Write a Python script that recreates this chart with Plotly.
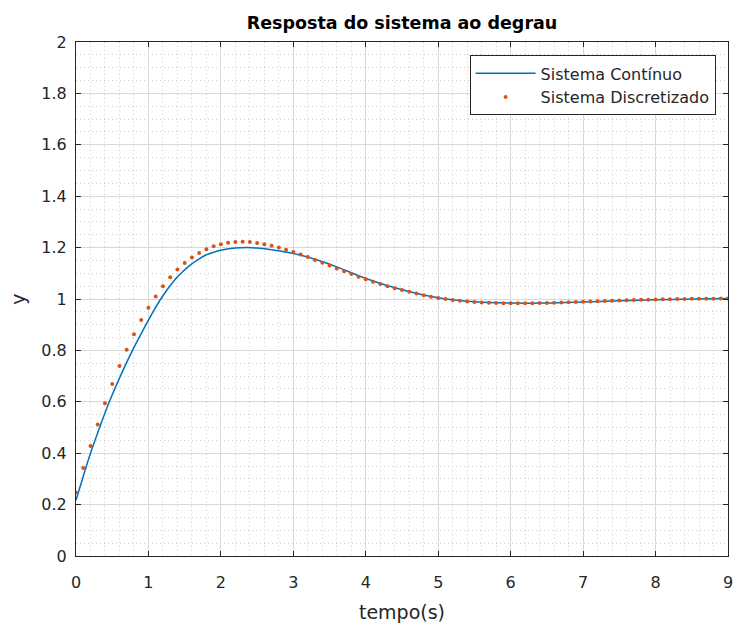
import plotly.graph_objects as go

# Discrete system samples (Ts = 0.1 s)
t_disc = [round(0.1 * k, 1) for k in range(91)]
y_disc = [
    0.247, 0.342, 0.428, 0.512, 0.594, 0.669, 0.739, 0.803, 0.863, 0.918,
    0.966, 1.010, 1.050, 1.085, 1.115, 1.140, 1.161, 1.179, 1.194, 1.205,
    1.213, 1.219, 1.222, 1.223, 1.222, 1.218, 1.213, 1.207, 1.200, 1.192,
    1.183, 1.173, 1.163, 1.152, 1.141, 1.130, 1.119, 1.108, 1.097, 1.087,
    1.077, 1.067, 1.058, 1.050, 1.042, 1.035, 1.028, 1.021, 1.015, 1.009,
    1.004, 1.000, 0.996, 0.993, 0.990, 0.988, 0.986, 0.985, 0.984, 0.983,
    0.983, 0.983, 0.983, 0.983, 0.984, 0.984, 0.985, 0.986, 0.987, 0.988,
    0.989, 0.990, 0.991, 0.992, 0.993, 0.994, 0.995, 0.996, 0.997, 0.997,
    0.998, 0.999, 0.999, 1.000, 1.000, 1.001, 1.001, 1.001, 1.001, 1.002,
    1.002,
]

# Continuous system response (read at selected times)
t_cont = [0.0, 0.1, 0.2, 0.33, 0.46, 0.62, 0.78, 0.9, 1.03, 1.17, 1.35, 1.46,
          1.58, 1.7, 1.8, 1.92, 2.03, 2.2, 2.35, 2.5, 2.7, 3.0, 3.3, 3.6, 4.0,
          4.5, 5.0, 5.5, 6.0, 6.5, 7.0, 7.5, 8.0, 8.5, 9.0]
y_cont = [0.217, 0.310, 0.400, 0.503, 0.600, 0.705, 0.800, 0.865, 0.933, 1.000,
          1.070, 1.103, 1.133, 1.156, 1.172, 1.184, 1.192, 1.198, 1.200, 1.198,
          1.192, 1.177, 1.155, 1.125, 1.080, 1.036, 1.005, 0.989, 0.984, 0.984,
          0.988, 0.993, 0.997, 1.000, 1.002]

x_ticks = [0, 1, 2, 3, 4, 5, 6, 7, 8, 9]
x_ticklabels = ["0", "1", "2", "3", "4", "5", "6", "7", "8", "9"]
y_ticks = [0, 0.2, 0.4, 0.6, 0.8, 1.0, 1.2, 1.4, 1.6, 1.8, 2.0]
y_ticklabels = ["0", "0.2", "0.4", "0.6", "0.8", "1", "1.2", "1.4", "1.6", "1.8", "2"]

title_text = "Resposta do sistema ao degrau"
x_label = "tempo(s)"
y_label = "y"
names = ["Sistema Contínuo", "Sistema Discretizado"]

FONT = "DejaVu Sans, Liberation Sans, sans-serif"
TXT = "#262626"

fig = go.Figure()
fig.add_trace(go.Scatter(
    x=t_cont, y=y_cont, mode="lines", name=names[0],
    line=dict(color="#0072BD", width=1.5, shape="spline", smoothing=1.0),
))
fig.add_trace(go.Scatter(
    x=t_disc, y=y_disc, mode="markers", name=names[1],
    marker=dict(color="#D95319", size=4),
))

axis_common = dict(
    showline=True, linecolor="#262626", linewidth=1, mirror="allticks",
    ticks="inside", ticklen=5, tickcolor="#262626",
    showgrid=True, gridcolor="#d9d9d9", gridwidth=1,
    zeroline=False, automargin=False,
    tickfont=dict(family=FONT, size=16, color=TXT),
)

fig.update_xaxes(
    range=[0, 9], tickvals=x_ticks, ticktext=x_ticklabels,
    ticklabelstandoff=12,
    minor=dict(dtick=0.2, showgrid=True, gridcolor="#cfcfcf", griddash="1px,3px",
               gridwidth=1, ticks=""),
    title=dict(text=x_label, font=dict(family=FONT, size=19, color=TXT), standoff=14),
    **axis_common,
)
fig.update_yaxes(
    range=[0, 2], tickvals=y_ticks, ticktext=y_ticklabels,
    ticklabelstandoff=5,
    minor=dict(dtick=0.05, showgrid=True, gridcolor="#cfcfcf", griddash="1px,3px",
               gridwidth=1, ticks=""),
    title=dict(text=y_label, font=dict(family=FONT, size=19, color=TXT), standoff=10),
    **axis_common,
)

fig.update_layout(
    width=737, height=625,
    margin=dict(l=76, r=9, t=42, b=69),
    paper_bgcolor="white", plot_bgcolor="white",
    title=dict(text="<b>" + title_text + "</b>", x=0.5, xanchor="center",
               xref="paper", y=0.963, yanchor="middle",
               font=dict(family=FONT, size=17.5, color="#000000")),
    legend=dict(x=0.981, y=0.974, xanchor="right", yanchor="top",
                bgcolor="white", bordercolor="#262626", borderwidth=1,
                font=dict(family=FONT, size=16, color=TXT),
                tracegroupgap=0, itemwidth=60),
    showlegend=True,
)

fig.write_html("out.html")
